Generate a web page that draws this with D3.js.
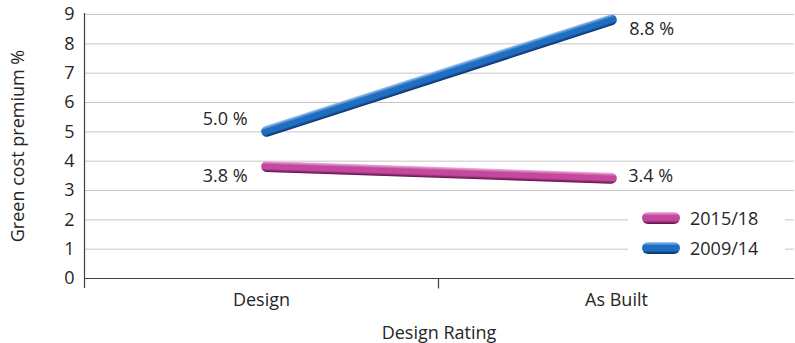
<!DOCTYPE html>
<html><head><meta charset="utf-8">
<script src="https://cdn.jsdelivr.net/npm/d3@7"></script>
<style>
body{margin:0;background:#fff}
text{font-family:"Open Sans",Lato,sans-serif;fill:#262626}
</style>
</head><body><svg id="chart" width="795" height="343"></svg>
<script>
// Green cost premium by design rating
const categories = ["Design", "As Built"];
const seriesNames = ["2015/18", "2009/14"];
const values2015 = [3.8, 3.4];
const values2009 = [5.0, 8.8];
const yTicks = [0, 1, 2, 3, 4, 5, 6, 7, 8, 9];
const valueLabels2015 = ["3.8 %", "3.4 %"];
const valueLabels2009 = ["5.0 %", "8.8 %"];

const svg = d3.select("#chart");
const plotLeft = 84, plotRight = 794, plotTop = 14, plotBottom = 278;
const fontSize = 18;

const xBand = d3.scaleBand().domain(categories).range([plotLeft, plotRight]);
const x = d3.scalePoint().domain(categories).range([plotLeft, plotRight]).padding(0.53);
const y = d3.scaleLinear().domain([0, 9]).range([plotBottom, plotTop]);

// gridlines
svg.append("g").selectAll("line").data(yTicks.filter(d => d > 0)).join("line")
  .attr("x1", plotLeft).attr("x2", plotRight)
  .attr("y1", d => y(d) + 0.5).attr("y2", d => y(d) + 0.5)
  .attr("stroke", "#c6c6c6").attr("stroke-width", 1);

// y axis
const yAxis = svg.append("g").attr("transform", `translate(${plotLeft + 0.5},0)`)
  .call(d3.axisLeft(y).tickValues(yTicks).tickSize(0).tickPadding(10).tickFormat(d3.format("d")));
yAxis.select(".domain").remove();
yAxis.append("line").attr("x1", 0).attr("x2", 0).attr("y1", plotTop - 1).attr("y2", plotBottom + 10)
  .attr("stroke", "#404040").attr("stroke-width", 1.2);
yAxis.selectAll("text").attr("font-size", fontSize).attr("fill", "#262626")
  .attr("font-family", "'Open Sans', Lato, sans-serif");

// x axis
const xAxis = svg.append("g").attr("transform", `translate(0,${plotBottom + 0.5})`);
xAxis.append("line").attr("x1", plotLeft).attr("x2", plotRight).attr("stroke", "#404040").attr("stroke-width", 1.2);
xAxis.selectAll("line.tick").data([categories[1]]).join("line").attr("class", "tick")
  .attr("x1", d => Math.round(xBand(d)) - 0.5).attr("x2", d => Math.round(xBand(d)) - 0.5)
  .attr("y1", 0).attr("y2", 10).attr("stroke", "#404040").attr("stroke-width", 1.2);
xAxis.selectAll("text").data(categories).join("text")
  .attr("x", d => xBand(d) + xBand.bandwidth() / 2).attr("y", 27).attr("text-anchor", "middle")
  .attr("font-size", fontSize).text(d => d);

// axis titles
svg.append("text").attr("x", (plotLeft + plotRight) / 2).attr("y", 339).attr("text-anchor", "middle")
  .attr("font-size", fontSize).text("Design Rating");
svg.append("text").attr("transform", `translate(24,${(plotTop + plotBottom) / 2}) rotate(-90)`)
  .attr("text-anchor", "middle").attr("font-size", fontSize).text("Green cost premium %");

// tube gradients
const defs = svg.append("defs");
const palettes = {
  "2015/18": { light: "#f0b8de", main: "#c4489e", dark: "#5a0c44" },
  "2009/14": { light: "#a6cbf0", main: "#1f6ec2", dark: "#0a2a60" }
};
const strokeW = 11;

function tubeGradient(id, p0, p1, pal) {
  const dx = p1[0] - p0[0], dy = p1[1] - p0[1];
  const len = Math.hypot(dx, dy);
  let nx = dy / len, ny = -dx / len;
  if (ny > 0) { nx = -nx; ny = -ny; }
  const mx = (p0[0] + p1[0]) / 2, my = (p0[1] + p1[1]) / 2;
  const hw = strokeW / 2;
  const g = defs.append("linearGradient").attr("id", id).attr("gradientUnits", "userSpaceOnUse")
    .attr("x1", mx + nx * hw).attr("y1", my + ny * hw)
    .attr("x2", mx - nx * hw).attr("y2", my - ny * hw);
  [[0, pal.light], [0.3, pal.main], [0.7, pal.main], [1, pal.dark]].forEach(([o, c]) =>
    g.append("stop").attr("offset", o).attr("stop-color", c));
}

const series = [
  { name: seriesNames[0], values: values2015, labels: valueLabels2015 },
  { name: seriesNames[1], values: values2009, labels: valueLabels2009 }
];

const line = d3.line().x((d, i) => x(categories[i])).y(d => y(d));

series.forEach((s, k) => {
  const pts = s.values.map((v, i) => [x(categories[i]), y(v)]);
  tubeGradient("tube" + k, pts[0], pts[1], palettes[s.name]);
  svg.append("path").datum(s.values).attr("d", line)
    .attr("fill", "none").attr("stroke", `url(#tube${k})`)
    .attr("stroke-width", strokeW).attr("stroke-linecap", "round");
});

// value labels
const labelOffsets = {
  "2015/18": [[-19, 15, "end"], [17, 4, "start"]],
  "2009/14": [[-19, -6, "end"], [18, 15, "start"]]
};
series.forEach(s => {
  s.values.forEach((v, i) => {
    const [ox, oy, anchor] = labelOffsets[s.name][i];
    svg.append("text").attr("x", x(categories[i]) + ox).attr("y", y(v) + oy)
      .attr("text-anchor", anchor).attr("font-size", fontSize).text(s.labels[i]);
  });
});

// legend
const legend = svg.append("g");
legend.append("rect").attr("x", 628).attr("y", 204).attr("width", 157).attr("height", 58).attr("fill", "#fff");
seriesNames.forEach((name, i) => {
  const yy = 218 + i * 30;
  const pal = palettes[name];
  const gid = "leg" + i;
  const g = defs.append("linearGradient").attr("id", gid).attr("x1", 0).attr("y1", 0).attr("x2", 0).attr("y2", 1);
  [[0, pal.light], [0.3, pal.main], [0.7, pal.main], [1, pal.dark]].forEach(([o, c]) =>
    g.append("stop").attr("offset", o).attr("stop-color", c));
  legend.append("rect").attr("x", 642).attr("y", yy - 6).attr("width", 38).attr("height", 12)
    .attr("rx", 6).attr("fill", `url(#${gid})`);
  legend.append("text").attr("x", 690).attr("y", yy + 6.5).attr("font-size", fontSize).text(name);
});
</script>
</body></html>
